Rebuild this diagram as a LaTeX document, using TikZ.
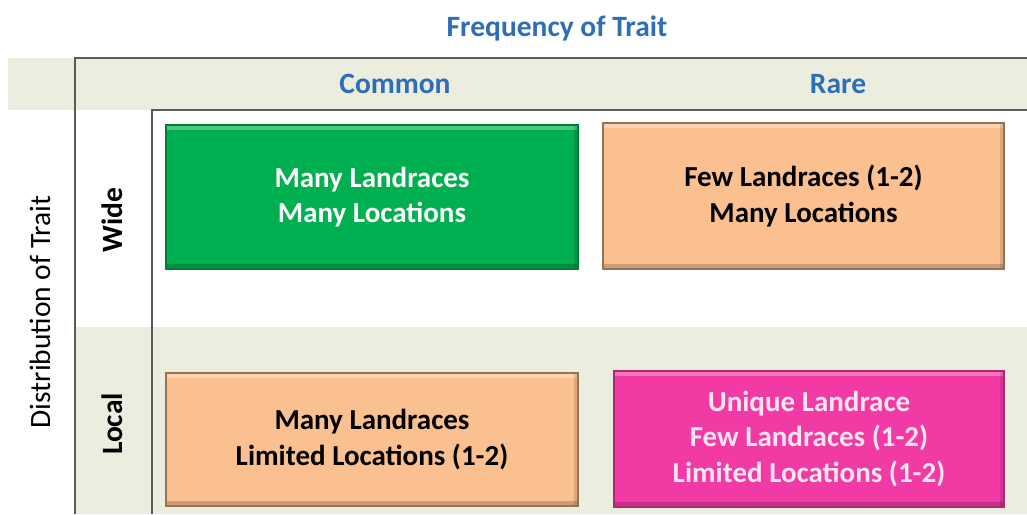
\documentclass[tikz,border=0pt]{standalone}
\usepackage{fontspec}
\setmainfont{Carlito}
\definecolor{kopfblau}{HTML}{2E6EB8}
\definecolor{bandbeige}{HTML}{EBEEDF}
\definecolor{gruen}{HTML}{00B050}
\definecolor{pfirsich}{HTML}{FAC08F}
\definecolor{pink}{HTML}{F23AA4}
\definecolor{rosaschrift}{HTML}{FCE4F0}
\definecolor{linie}{HTML}{5A5A5A}
\begin{document}
\begin{tikzpicture}[x=1pt, y=-1pt]
	\tikzset{kasten/.style={rectangle, minimum width=412pt, minimum height=144pt, inner sep=0pt, align=center, line width=1.6pt, font=\fontsize{29}{35.5}\selectfont\bfseries,
			path picture={
				\fill[white, opacity=0.3] (path picture bounding box.north west) rectangle ([yshift=-5pt]path picture bounding box.north east);
				\fill[black, opacity=0.18] ([yshift=5pt]path picture bounding box.south west) rectangle (path picture bounding box.south east);
				\fill[black, opacity=0.12] ([xshift=-4pt]path picture bounding box.north east) rectangle (path picture bounding box.south east);}},
		kopf/.style={text=kopfblau, font=\fontsize{29.5}{34}\selectfont\bfseries},
		seite/.style={rotate=90, font=\fontsize{29.5}{34}\selectfont\bfseries},
		rahmen/.style={draw=linie, line width=1.8pt}};

	\useasboundingbox (0,0) rectangle (1027,514);
	\fill[white] (0,0) rectangle (1027,514);

	% Baender
	\fill[bandbeige] (8,58) rectangle (1027,110);
	\fill[bandbeige] (75,327) rectangle (1027,514);

	% Rahmenlinien
	\coordinate (o1) at (75,514);
	\coordinate (o2) at (75,58);
	\coordinate (o3) at (1027,58);
	\coordinate (i1) at (152,514);
	\coordinate (i2) at (152,110);
	\coordinate (i3) at (1027,110);
	\draw[rahmen] (o1) -- (o2) -- (o3);
	\draw[rahmen] (i1) -- (i2) -- (i3);

	% Kopfzeilen
	\node[kopf] (titel)  at (557,28) {Frequency of Trait};
	\node[kopf] (common) at (395,84) {Common};
	\node[kopf] (rare)   at (838,84) {Rare};

	\node[seite] (distr) at (40,312) {\mdseries Distribution of Trait};
	\node[seite] (wide)  at (112,220) {Wide};
	\node[seite] (local) at (112,424) {Local};

	% Kaesten
	\node[kasten, fill=gruen, draw=gruen!70!black, text=white] (ww) at (372,197) {Many Landraces\\Many Locations};
	\node[kasten, fill=pfirsich, draw=pfirsich!60!black, minimum width=401pt, minimum height=146pt] (wr) at (803.5,196) {Few Landraces (1-2)\\Many Locations};
	\node[kasten, fill=pfirsich, draw=pfirsich!60!black, minimum height=133pt] (lc) at (372,439.5) {Many Landraces\\Limited Locations (1-2)};
	\node[kasten, fill=pink, draw=pink!70!black, text=rosaschrift, minimum width=390pt, minimum height=136pt] (lr) at (809,439) {Unique Landrace\\Few Landraces (1-2)\\Limited Locations (1-2)};

\end{tikzpicture}
\end{document}
